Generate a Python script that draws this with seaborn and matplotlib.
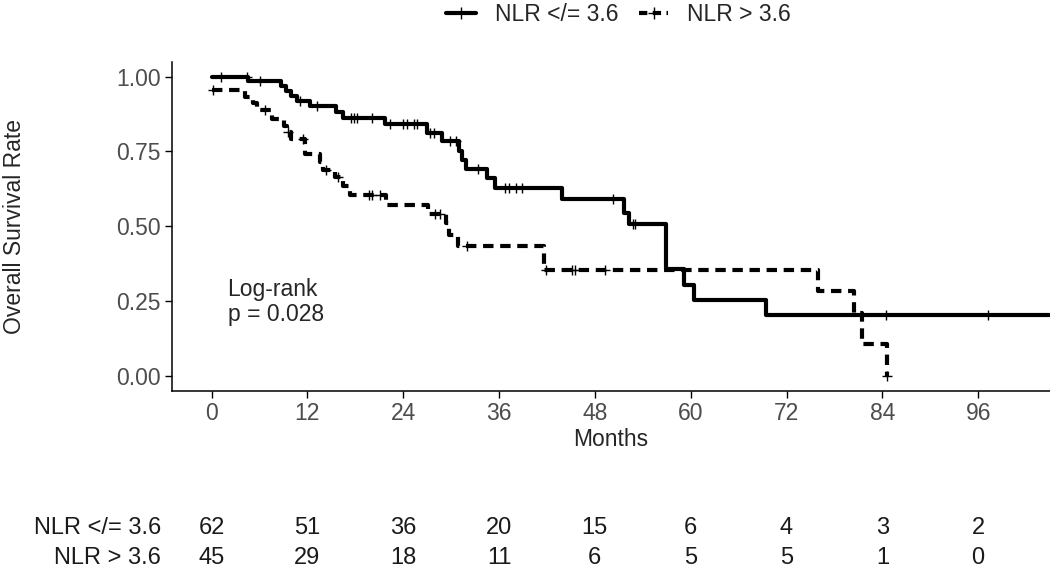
import numpy as np
import pandas as pd
import matplotlib
matplotlib.use('Agg')
import matplotlib.pyplot as plt
import seaborn as sns
from matplotlib.lines import Line2D

groups = ['NLR </= 3.6', 'NLR > 3.6']

# step curves (time in months, survival after the step)
low_time = [0, 4.6, 8.7, 9.3, 10.0, 10.7, 12.3, 15.6, 16.4, 21.7, 27.0, 28.9, 31.0, 31.4,
            31.9, 34.5, 35.5, 43.9, 51.6, 52.3, 56.9, 59.2, 60.4, 69.4, 105]
low_surv = [1.000, 0.984, 0.968, 0.952, 0.935, 0.919, 0.903, 0.883, 0.862, 0.841, 0.812, 0.784, 0.752, 0.722,
            0.692, 0.660, 0.628, 0.590, 0.545, 0.507, 0.356, 0.304, 0.253, 0.203, 0.203]
high_time = [0, 4.2, 5.2, 5.7, 7.6, 9.1, 9.4, 9.9, 11.7, 13.6, 14.0, 15.4, 16.4, 17.3, 21.8,
             27.1, 29.3, 29.7, 30.9, 41.6, 75.9, 80.4, 81.5, 84.6]
high_surv = [0.956, 0.933, 0.911, 0.889, 0.858, 0.835, 0.814, 0.792, 0.740, 0.715, 0.689, 0.663, 0.633, 0.603, 0.572,
             0.541, 0.509, 0.470, 0.433, 0.353, 0.283, 0.211, 0.106, 0.000]

# censored times
low_cens = [1.2, 4.4, 6.1, 11.1, 13.2, 17.4, 17.8, 18.2, 20.1, 22.4, 24.0, 24.5, 25.3, 25.7,
            27.4, 27.8, 29.9, 30.6, 33.4, 36.8, 37.2, 38.1, 38.9, 50.3, 52.8, 53.0, 84.4, 97.2]
high_cens = [0.2, 6.7, 9.6, 11.5, 14.3, 15.8, 19.7, 20.1, 21.1, 28.0, 28.6, 32.0, 41.9, 45.1, 45.5,
             49.3, 84.6]

# number at risk
risk_times = [0, 12, 24, 36, 48, 60, 72, 84, 96]
low_risk = [62, 51, 36, 20, 15, 6, 4, 3, 2]
high_risk = [45, 29, 18, 11, 6, 5, 5, 1, 0]

curves = pd.concat([
    pd.DataFrame({'Months': low_time, 'surv': low_surv, 'group': groups[0]}),
    pd.DataFrame({'Months': high_time, 'surv': high_surv, 'group': groups[1]}),
])

def surv_at(times, t_step, s_step):
    idx = np.searchsorted(t_step, times, side='right') - 1
    return np.array(s_step)[idx]

cens = pd.concat([
    pd.DataFrame({'Months': low_cens, 'surv': surv_at(low_cens, low_time, low_surv), 'group': groups[0]}),
    pd.DataFrame({'Months': high_cens, 'surv': surv_at(high_cens, high_time, high_surv), 'group': groups[1]}),
])

sns.set_style('white')
plt.rcParams['font.family'] = ['Liberation Sans', 'DejaVu Sans']

fig = plt.figure(figsize=(10.5, 5.71), dpi=100)
ax = fig.add_axes([0.1635, 0.316, 0.8365, 0.576])

sns.lineplot(data=curves, x='Months', y='surv', style='group', color='black',
             dashes={groups[0]: '', groups[1]: (2.5, 1.6)}, estimator=None,
             drawstyle='steps-post', linewidth=3, legend=False, ax=ax)
sns.scatterplot(data=cens, x='Months', y='surv', marker='+', s=55, linewidth=1,
                color='black', legend=False, ax=ax, zorder=3)

ax.set_xlim(-5, 105)
ax.set_ylim(-0.05, 1.05)
ax.set_xticks(risk_times)
ax.set_yticks([0, 0.25, 0.5, 0.75, 1.0])
ax.set_yticklabels(['0.00', '0.25', '0.50', '0.75', '1.00'])
ax.tick_params(axis='both', labelsize=16.5, labelcolor='#4D4D4D', length=5, width=1,
               color='black', direction='out', bottom=True, left=True, pad=3)
for s in ['top', 'right']:
    ax.spines[s].set_visible(False)
for s in ['left', 'bottom']:
    ax.spines[s].set_color('black')
    ax.spines[s].set_linewidth(1.1)
ax.set_xlabel('Months', fontsize=16.5, labelpad=0)
ax.set_ylabel('Overall Survival Rate', fontsize=16.5, labelpad=10)
ax.xaxis.set_label_coords(0.5, -0.115)
ax.yaxis.set_label_coords(-0.166, 0.5)

ax.text(2, 0.247, 'Log-rank\np = 0.028', fontsize=16.5, va='center', ha='left', linespacing=1.1)

handles = [Line2D([], [], color='black', lw=3, marker='+', ms=8, mew=1),
           Line2D([], [], color='black', lw=3, ls=(0, (2, 1.3)), marker='+', ms=8, mew=1)]
fig.legend(handles, groups, loc='upper center', bbox_to_anchor=(0.589, 1.03), ncol=2,
           frameon=False, fontsize=16.5, handlelength=1.3, handletextpad=0.8, columnspacing=0.9)

# risk table
tab = fig.add_axes([0.1635, 0.0, 0.8365, 0.12])
tab.set_xlim(-5, 105)
tab.set_ylim(0, 1)
tab.axis('off')
for t, a, b in zip(risk_times, low_risk, high_risk):
    tab.text(t, 0.63, str(a), ha='center', va='center', fontsize=17, color='#1a1a1a')
    tab.text(t, 0.19, str(b), ha='center', va='center', fontsize=17, color='#1a1a1a')
fig.text(161 / 1050, 1 - 528 / 571, groups[0], ha='right', va='center', fontsize=17, color='#1a1a1a')
fig.text(161 / 1050, 1 - 558 / 571, groups[1], ha='right', va='center', fontsize=17, color='#1a1a1a')

fig.savefig('out.png', dpi=100)
